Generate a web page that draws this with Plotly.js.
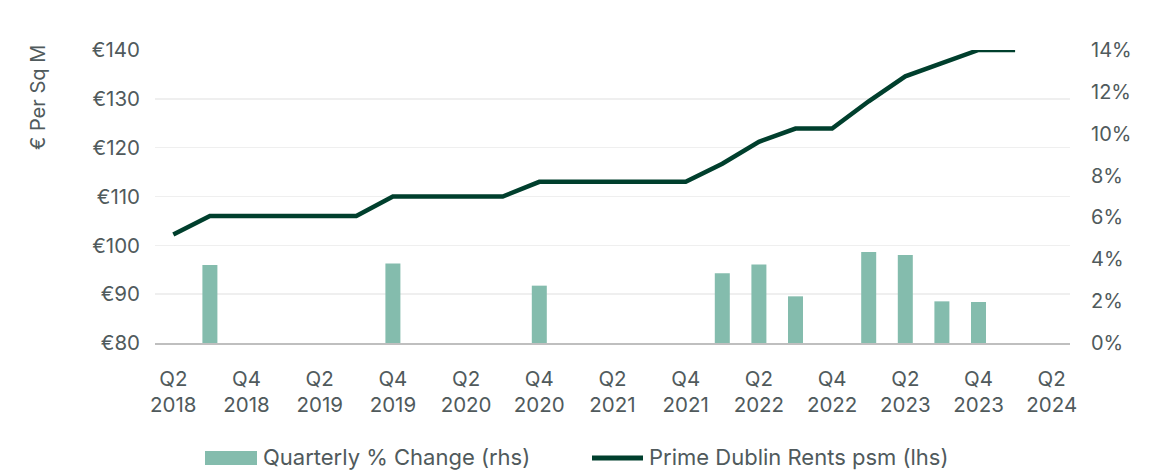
<!DOCTYPE html>
<html>
<head>
<meta charset="utf-8">
<script src="https://cdn.plot.ly/plotly-3.0.1.min.js"></script>
<style>html,body{margin:0;padding:0;background:#fff;}#chart{width:1168px;height:472px;}</style>
</head>
<body>
<div id="chart"></div>
<script>
const quarters = ["Q2 2018","Q3 2018","Q4 2018","Q1 2019","Q2 2019","Q3 2019","Q4 2019","Q1 2020","Q2 2020","Q3 2020","Q4 2020","Q1 2021","Q2 2021","Q3 2021","Q4 2021","Q1 2022","Q2 2022","Q3 2022","Q4 2022","Q1 2023","Q2 2023","Q3 2023","Q4 2023","Q1 2024","Q2 2024"];
const rents = [102.2,106,106,106,106,106,110,110,110,110,113,113,113,113,113,116.7,121.2,123.9,123.9,129.5,134.6,137.3,140,140,null];
const pctChange = [null,3.73,null,null,null,null,3.8,null,null,null,2.74,null,null,null,null,3.33,3.75,2.23,null,4.35,4.21,1.99,1.96,null,null];
const tickQuarters = ["Q2 2018","Q4 2018","Q2 2019","Q4 2019","Q2 2020","Q4 2020","Q2 2021","Q4 2021","Q2 2022","Q4 2022","Q2 2023","Q4 2023","Q2 2024"];
const leftTicks = [80,90,100,110,120,130,140];
const rightTicks = [0,2,4,6,8,10,12,14];
const seriesNames = ["Quarterly % Change (rhs)","Prime Dublin Rents psm (lhs)"];
const yTitle = "€ Per Sq M";

const fontFam = "Inter, 'Noto Sans', sans-serif";
const grey = "#505A5C";
const barColor = "#84BCAD";
const lineColor = "#003F2D";

// plot-area geometry (px)
const L = 155, R = 98, T = 50, B = 129, W = 1168, H = 472;
const pw = W - L - R, ph = H - T - B;
const px = p => (p - L) / pw;
const py = p => (H - B - p) / ph;

const traces = [
  {type:"bar", name:seriesNames[0], x:quarters, y:pctChange, yaxis:"y2",
   marker:{color:barColor}, width:0.41, showlegend:false},
  {type:"scatter", mode:"lines", name:seriesNames[1], x:quarters, y:rents,
   line:{color:lineColor, width:4.5}, connectgaps:false, showlegend:false}
];

const layout = {
  width:W, height:H,
  margin:{l:L, r:R, t:T, b:B, autoexpand:false},
  paper_bgcolor:"#fff", plot_bgcolor:"#fff",
  font:{family:fontFam, size:20, color:grey},
  showlegend:false,
  xaxis:{type:"category", range:[-0.5,24.5], tickmode:"array",
         tickvals:tickQuarters, ticktext:tickQuarters.map(s=>s.replace(" ","<br>")),
         showgrid:false, showline:true, linecolor:"#BFBFBF", linewidth:2,
         ticks:"", ticklabelstandoff:16, tickfont:{family:fontFam, size:20.5, color:grey}, zeroline:false},
  yaxis:{range:[80,140], tickmode:"array", tickvals:leftTicks, ticktext:leftTicks.map(v=>"€"+v),
         showgrid:true, gridcolor:"#EFEFEF", gridwidth:1.5, zeroline:false, showline:false,
         ticks:"", ticklabelstandoff:14, tickfont:{family:fontFam, size:20.5, color:grey}},
  yaxis2:{range:[0,14], overlaying:"y", side:"right", tickmode:"array", tickvals:rightTicks,
          ticktext:rightTicks.map(v=>v+"%"), showgrid:false, zeroline:false, showline:false,
          ticks:"", ticklabelstandoff:20, tickfont:{family:fontFam, size:20, color:grey}},
  shapes:[
    {type:"rect", xref:"paper", yref:"paper", x0:px(205), x1:px(257), y0:py(465), y1:py(451),
     fillcolor:barColor, line:{width:0}},
    {type:"line", xref:"paper", yref:"paper", x0:px(592), x1:px(643), y0:py(458), y1:py(458),
     line:{color:lineColor, width:5}}
  ],
  annotations:[
    {text:yTitle, textangle:-90, xref:"paper", yref:"paper",
     x:px(38), y:py(98), xanchor:"center", yanchor:"middle", showarrow:false,
     font:{family:fontFam, size:20, color:grey}},
    {text:seriesNames[0], xref:"paper", yref:"paper", x:px(261), y:py(457),
     xanchor:"left", yanchor:"middle", showarrow:false, font:{family:fontFam, size:22, color:grey}},
    {text:seriesNames[1], xref:"paper", yref:"paper", x:px(647), y:py(457),
     xanchor:"left", yanchor:"middle", showarrow:false, font:{family:fontFam, size:22, color:grey}}
  ],
  bargap:0.59
};

Plotly.newPlot("chart", traces, layout, {displayModeBar:false, staticPlot:true});
</script>
</body>
</html>
